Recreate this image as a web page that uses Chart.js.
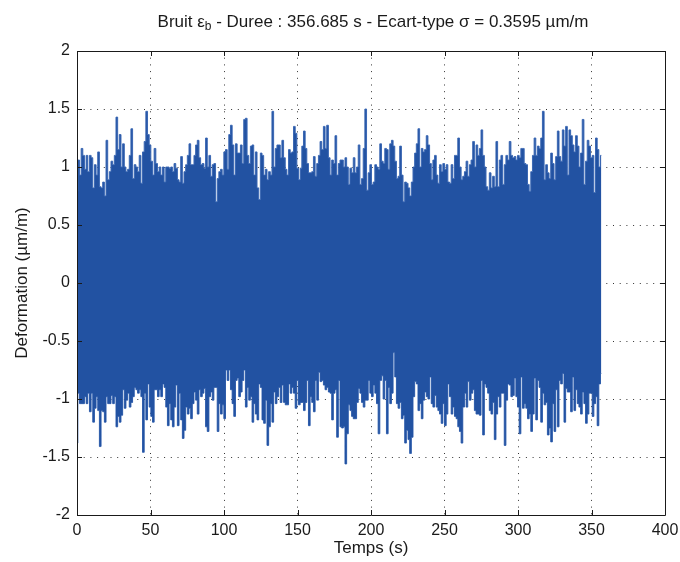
<!DOCTYPE html>
<html>
<head>
<meta charset="utf-8">
<script src="https://cdn.jsdelivr.net/npm/chart.js@4.4.1/dist/chart.umd.min.js"></script>
<style>
    html, body { margin: 0; padding: 0; background: #fff; }
    #wrap { width: 680px; height: 562px; }
</style>
</head>
<body>
<div id="wrap"><canvas id="bruitChart" width="680" height="562"></canvas></div>
<script>
// Duree totale du signal (s)
const duree = 356.685;

const titreDebut = 'Bruit \u03b5';
const titreIndice = 'b';
const titreFin = ' - Duree : 356.685 s - Ecart-type \u03c3 = 0.3595 \u00b5m/m';

const xTicks = [0, 50, 100, 150, 200, 250, 300, 350, 400];
const yTicks = [-2, -1.5, -1, -0.5, 0, 0.5, 1, 1.5, 2];
const yTickLabels = ['-2', '-1.5', '-1', '-0.5', '0', '0.5', '1', '1.5', '2'];

// Enveloppe haute du bruit (µm/m)
const enveloppeHaut = [
    0.79, 1.06, 0.93, 1.16, 1.10, 0.98, 1.10, 0.96, 1.10, 1.08,
    0.82, 1.02, 0.93, 1.13, 0.83, 0.82, 0.87, 0.75, 1.23, 0.89,
    0.96, 1.05, 1.02, 1.10, 1.43, 1.15, 1.28, 1.00, 1.20, 1.00,
    0.96, 0.98, 1.10, 1.33, 0.90, 1.02, 1.00, 0.96, 1.10, 0.86,
    1.13, 1.22, 1.48, 1.28, 1.19, 1.05, 0.93, 1.16, 1.03, 0.96,
    1.00, 0.93, 1.00, 0.87, 1.00, 1.00, 0.99, 1.00, 0.96, 1.03,
    0.99, 0.89, 0.87, 1.09, 0.86, 0.96, 1.02, 1.10, 1.20, 1.02,
    1.02, 1.10, 1.19, 1.23, 1.08, 1.02, 1.03, 0.99, 1.25, 1.00,

    1.10, 0.92, 1.02, 1.03, 0.70, 0.90, 0.96, 0.98, 0.93, 1.13,
    1.15, 0.98, 1.28, 1.36, 1.19, 0.93, 1.20, 1.12, 1.12, 1.19,
    1.03, 1.41, 1.42, 1.10, 1.03, 1.18, 1.19, 0.93, 1.13, 0.82,
    0.72, 1.12, 1.10, 0.93, 0.98, 0.89, 0.96, 0.93, 1.48, 1.00,
    1.16, 1.19, 1.19, 1.08, 1.23, 1.08, 0.98, 0.93, 1.15, 1.12,
    1.13, 1.35, 1.29, 0.99, 0.89, 0.99, 1.18, 1.31, 1.16, 1.03,
    0.95, 0.95, 0.96, 1.09, 0.92, 1.03, 1.10, 1.22, 1.15, 1.35,
    1.16, 1.36, 1.08, 0.93, 1.06, 1.03, 1.27, 0.93, 1.03, 1.06,
    1.06,

    1.00, 1.08, 1.00, 0.85, 0.99, 0.95, 1.08, 0.95, 1.00, 1.19,
    0.85, 0.90, 1.16, 1.50, 0.80, 0.95, 1.02, 0.85, 0.87, 1.02,
    1.00, 0.98, 1.20, 1.05, 1.03, 1.16, 1.15, 0.98, 1.20, 1.23,
    1.18, 1.05, 0.90, 0.92, 1.18, 0.93, 0.70, 0.87, 0.86, 0.82,
    0.75, 0.87, 1.00, 1.12, 1.20, 1.33, 1.00, 1.16, 1.13, 1.15,
    1.27, 1.19, 1.03, 0.89, 1.06, 1.10, 0.93, 0.86, 1.02, 0.96,
    1.03, 0.98, 1.02, 0.87, 0.86, 1.02, 0.90, 1.10, 1.10, 1.25,
    1.00, 0.89, 0.92, 0.96, 1.05, 0.92, 1.02, 1.06, 1.22, 1.00,
    1.19, 1.10,

    1.16, 1.32, 1.10, 1.00, 0.83, 0.80, 0.95, 0.82, 0.92, 0.83,
    1.22, 0.83, 1.06, 1.10, 0.85, 1.02, 1.10, 1.06, 1.22, 1.10,
    1.08, 1.09, 1.06, 1.10, 1.08, 1.16, 1.16, 1.03, 1.02, 0.85,
    0.79, 0.96, 1.10, 1.25, 1.10, 1.18, 1.16, 1.25, 1.48, 0.89,
    1.02, 0.95, 0.90, 1.12, 1.03, 0.89, 1.09, 1.31, 1.09, 1.05,
    1.32, 1.18, 1.35, 0.93, 1.32, 1.27, 1.19, 1.13, 1.27, 1.18,
    1.00, 1.12, 1.41, 0.85, 1.05, 1.23, 1.18, 1.08, 1.10, 0.78,
    1.25, 1.15, 1.00, 1.10
];

// Enveloppe basse du bruit (µm/m)
const enveloppeBas = [
    -1.38, -0.95, -1.04, -1.04, -1.04, -0.98, -1.04, -0.95, -1.11, -0.95,
    -1.20, -1.08, -0.98, -1.10, -1.41, -1.10, -1.11, -1.20, -0.98, -1.04,
    -1.04, -0.97, -1.04, -0.98, -1.24, -1.15, -1.20, -1.14, -0.92, -1.08,
    -1.01, -0.95, -1.07, -1.03, -0.98, -0.90, -0.92, -0.95, -0.92, -0.98,
    -1.46, -0.95, -1.18, -0.87, -1.07, -1.15, -1.20, -0.92, -0.92, -0.98,
    -0.92, -0.98, -0.87, -0.90, -1.07, -1.23, -1.04, -1.18, -1.24, -1.07,
    -0.88, -1.23, -0.95, -1.18, -1.34, -1.27, -1.07, -1.13, -1.08, -1.17,
    -1.04, -0.94, -1.01, -1.13, -0.92, -0.98, -0.95, -0.91, -1.24, -1.28,

    -0.98, -0.94, -1.01, -0.90, -0.90, -1.28, -1.04, -1.13, -1.05, -1.17,
    -0.75, -0.84, -0.75, -0.92, -1.04, -1.15, -0.84, -0.82, -0.98, -0.94,
    -0.84, -0.75, -1.07, -0.90, -1.01, -0.98, -1.20, -1.04, -1.13, -1.18,
    -0.87, -0.90, -1.18, -1.21, -1.01, -1.40, -1.24, -1.04, -1.20, -0.94,
    -1.04, -0.98, -0.90, -1.03, -0.88, -1.03, -1.05, -1.05, -0.87, -0.95,
    -0.90, -0.95, -1.08, -0.84, -1.05, -1.03, -1.03, -1.10, -1.03, -0.84,
    -1.23, -0.98, -1.03, -1.11, -0.84, -1.01, -0.77, -0.85, -0.84, -0.88,
    -0.92, -0.90, -0.94, -0.95, -1.18, -0.95, -0.92, -1.33, -0.84, -1.24,
    -1.25,

    -1.24, -1.56, -1.30, -1.05, -1.10, -1.15, -1.17, -1.17, -1.03, -0.91,
    -0.95, -1.03, -1.07, -1.01, -1.01, -0.84, -0.95, -0.98, -0.88, -0.95,
    -1.04, -1.30, -0.84, -0.80, -1.00, -0.84, -1.30, -0.90, -1.04, -0.95,
    -0.60, -0.81, -1.04, -1.08, -1.03, -1.17, -1.14, -1.38, -1.27, -1.35,
    -1.47, -1.33, -0.98, -0.85, -0.87, -1.10, -1.04, -1.17, -1.01, -0.94,
    -0.98, -1.00, -0.81, -1.04, -1.07, -0.97, -1.07, -1.10, -1.13, -1.21,
    -1.04, -1.23, -1.13, -0.87, -0.98, -1.13, -1.07, -1.15, -1.17, -1.24,
    -1.28, -1.38, -1.07, -0.95, -1.07, -0.85, -1.01, -0.95, -0.92, -1.10,
    -1.13, -1.13,

    -1.14, -0.84, -1.31, -0.87, -0.90, -0.95, -1.10, -1.13, -1.03, -1.35,
    -1.13, -0.98, -1.07, -0.95, -0.95, -1.40, -1.01, -0.87, -0.88, -0.98,
    -0.97, -0.82, -0.98, -1.07, -1.30, -0.81, -1.08, -1.04, -1.08, -1.17,
    -1.13, -1.28, -1.13, -0.82, -1.18, -0.84, -0.90, -1.20, -0.95, -1.05,
    -1.03, -1.31, -1.25, -1.37, -1.04, -1.28, -0.92, -1.24, -0.84, -0.87,
    -0.78, -1.20, -0.91, -0.94, -0.94, -1.11, -0.81, -1.10, -0.92, -1.04,
    -1.07, -1.13, -0.94, -1.04, -1.21, -1.13, -0.95, -0.95, -1.15, -1.04,
    -0.98, -1.23, -0.87, -0.78
];

const bleu = '#2252a2';
const bleuBord = '#3a67b3';
const police = '"Liberation Sans", Arial, Helvetica, sans-serif';

// les points sont repartis regulierement sur la duree du signal
function versPoints(valeurs) {
    const n = valeurs.length;
    return valeurs.map((v, i) => ({ x: i * duree / (n - 1), y: v }));
}

// titre avec indice (epsilon b)
const titrePlugin = {
    id: 'titre',
    afterDraw(chart) {
        const ctx = chart.ctx;
        const area = chart.chartArea;
        const cx = (area.left + area.right) / 2 + 2;
        const y = 22;
        const parts = [
            { t: titreDebut, size: 17, dy: 0 },
            { t: titreIndice, size: 12, dy: 5 },
            { t: titreFin, size: 17, dy: 0 }
        ];
        ctx.save();
        ctx.fillStyle = '#1a1a1a';
        ctx.textBaseline = 'middle';
        ctx.textAlign = 'left';
        let total = 0;
        parts.forEach(p => {
            ctx.font = p.size + 'px ' + police;
            p.w = ctx.measureText(p.t).width;
            total += p.w;
        });
        let x = cx - total / 2;
        parts.forEach(p => {
            ctx.font = p.size + 'px ' + police;
            ctx.fillText(p.t, x, y + p.dy);
            x += p.w;
        });
        ctx.restore();
    }
};

// cadre et graduations interieures facon Matlab
const cadrePlugin = {
    id: 'cadre',
    afterDatasetsDraw(chart) {
        const ctx = chart.ctx;
        const a = chart.chartArea;
        const sx = chart.scales.x;
        const sy = chart.scales.y;
        const L = 5;
        ctx.save();
        ctx.strokeStyle = '#1a1a1a';
        ctx.lineWidth = 1;
        ctx.beginPath();
        ctx.rect(Math.round(a.left) + 0.5, Math.round(a.top) + 0.5,
                 Math.round(a.right - a.left), Math.round(a.bottom - a.top));
        sx.ticks.forEach(t => {
            const px = Math.round(sx.getPixelForValue(t.value)) + 0.5;
            ctx.moveTo(px, a.bottom);
            ctx.lineTo(px, a.bottom - L);
            ctx.moveTo(px, a.top);
            ctx.lineTo(px, a.top + L);
        });
        sy.ticks.forEach(t => {
            const py = Math.round(sy.getPixelForValue(t.value)) + 0.5;
            ctx.moveTo(a.left, py);
            ctx.lineTo(a.left + L, py);
            ctx.moveTo(a.right, py);
            ctx.lineTo(a.right - L, py);
        });
        ctx.stroke();
        ctx.restore();
    }
};

const config = {
    type: 'line',
    data: {
        datasets: [{
            label: 'haut',
            data: versPoints(enveloppeHaut),
            borderColor: bleuBord,
            backgroundColor: bleu,
            borderWidth: 1,
            pointRadius: 0,
            stepped: 'middle',
            fill: '+1'
        }, {
            label: 'bas',
            data: versPoints(enveloppeBas),
            borderColor: bleuBord,
            backgroundColor: bleu,
            borderWidth: 1,
            pointRadius: 0,
            stepped: 'middle',
            fill: false
        }]
    },
    options: {
        responsive: false,
        animation: false,
        devicePixelRatio: 1,
        layout: {
            padding: { top: 51, right: 15, left: 0, bottom: 0 }
        },
        plugins: {
            legend: { display: false },
            title: { display: false },
            tooltip: { enabled: false }
        },
        scales: {
            x: {
                type: 'linear',
                min: 0,
                max: 400,
                afterBuildTicks: scale => { scale.ticks = xTicks.map(v => ({ value: v })); },
                afterFit: scale => {
                    scale.height = 47;
                    scale.paddingLeft = 0;
                    scale.paddingRight = 0;
                },
                grid: { color: '#333', lineWidth: 1, drawTicks: false },
                border: { display: false, dash: [1, 5.7] },
                ticks: {
                    color: '#1a1a1a',
                    font: { family: police, size: 16 },
                    padding: 6,
                    maxRotation: 0,
                    autoSkip: false
                },
                title: {
                    display: true,
                    text: 'Temps (s)',
                    color: '#1a1a1a',
                    font: { family: police, size: 17 },
                    padding: { top: 0, bottom: 3 }
                }
            },
            y: {
                min: -2,
                max: 2,
                afterBuildTicks: scale => { scale.ticks = yTicks.map(v => ({ value: v })); },
                afterFit: scale => {
                    scale.width = 77;
                    scale.paddingTop = 0;
                    scale.paddingBottom = 0;
                },
                grid: { color: '#333', lineWidth: 1, drawTicks: false },
                border: { display: false, dash: [1, 5.7] },
                ticks: {
                    color: '#1a1a1a',
                    font: { family: police, size: 16 },
                    padding: 7,
                    callback: (v) => yTickLabels[yTicks.indexOf(v)]
                },
                title: {
                    display: true,
                    text: 'Deformation (\u00b5m/m)',
                    color: '#1a1a1a',
                    font: { family: police, size: 17 },
                    padding: { top: 12, bottom: 0 }
                }
            }
        }
    },
    plugins: [titrePlugin, cadrePlugin]
};

window.onload = function() {
    const ctx = document.getElementById('bruitChart').getContext('2d');
    window.bruitChart = new Chart(ctx, config);
};
</script>
</body>
</html>
